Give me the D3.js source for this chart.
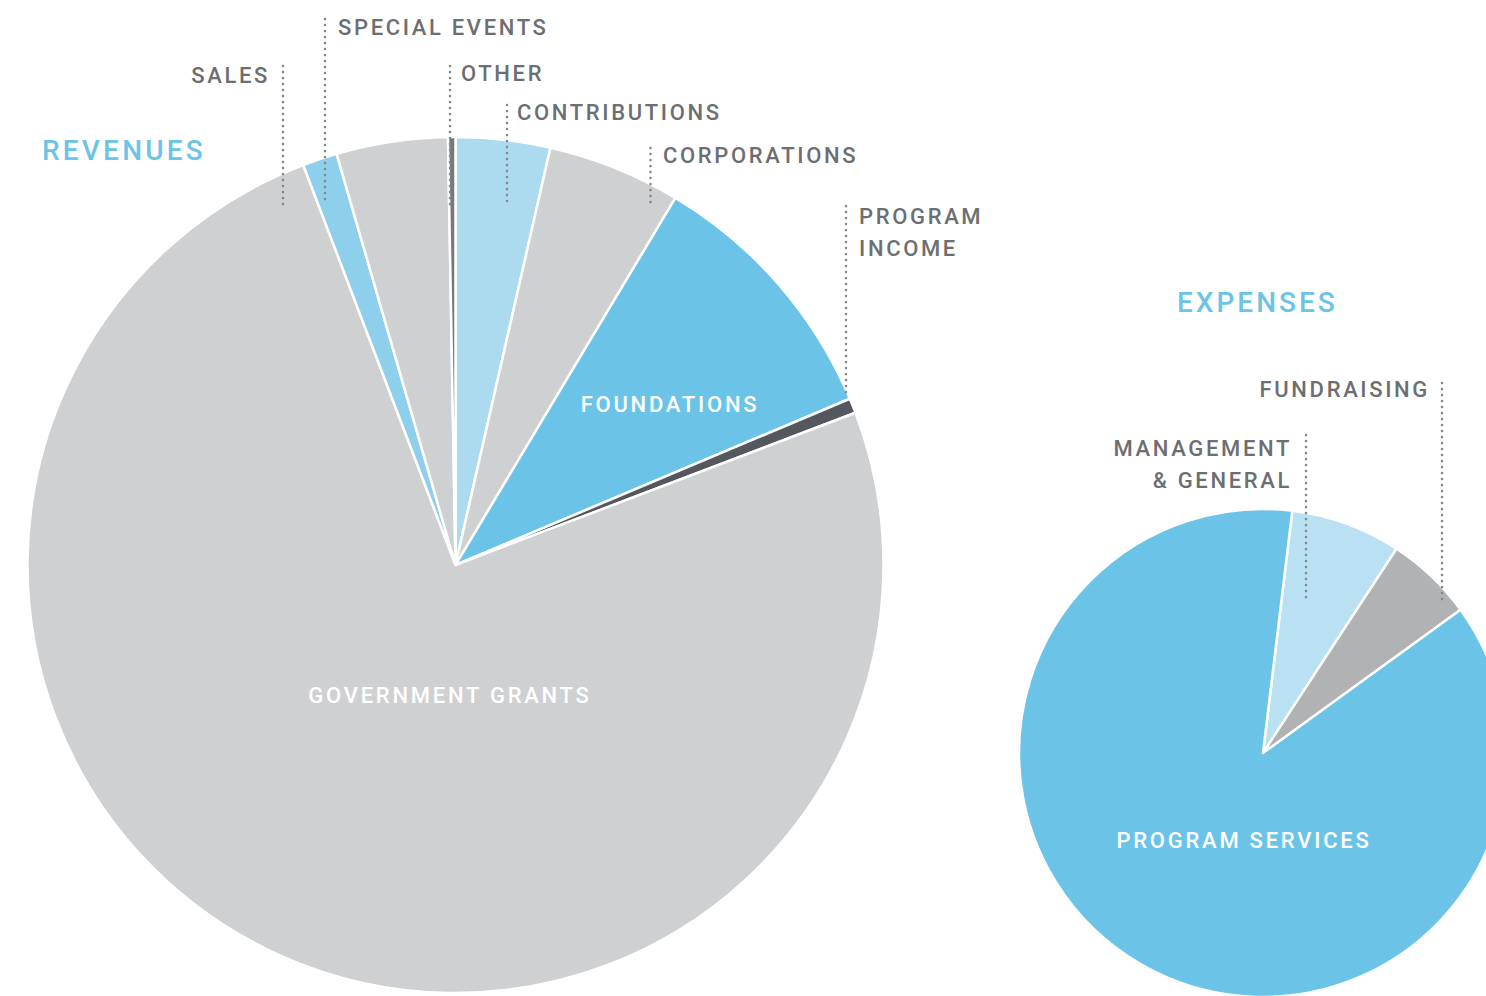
<!DOCTYPE html>
<html>
<head>
<meta charset="utf-8">
<script src="https://cdn.jsdelivr.net/npm/d3@7"></script>
<style>
  html, body { margin: 0; padding: 0; background: #fff; }
  svg { display: block; font-family: Roboto, "DejaVu Sans", sans-serif; }
</style>
</head>
<body>
<svg id="chart" width="1486" height="996"></svg>
<script>
// Revenue shares (percent), clockwise from 12 o'clock
const revenueCategories = ['Contributions', 'Corporations', 'Foundations', 'Program Income',
  'Government Grants', 'Sales', 'Special Events', 'Other'];
const revenueValues = [3.56, 5.03, 10.06, 0.56, 75.0, 1.31, 4.20, 0.28];

// Expense shares (percent)
const expenseCategories = ['Management & General', 'Fundraising', 'Program Services'];
const expenseValues = [7.3, 5.8, 86.9];

// Colours per slice
const revenueColors = ['#acdbf0', '#cfd0d2', '#6bc4e8', '#54585e', '#cfd0d2', '#8ecfec', '#cfd0d2', '#77787b'];
const expenseColors = ['#b9e1f3', '#b1b2b4', '#6bc4e8'];

// Label layout: text lines, anchor, leader line [x, y1, y2]
const revenueLabels = [
  { lines: ['SALES'], x: 270, y: 83, anchor: 'end', leader: [283, 66, 205] },
  { lines: ['SPECIAL EVENTS'], x: 338, y: 35, anchor: 'start', leader: [325, 19, 205] },
  { lines: ['OTHER'], x: 461, y: 81, anchor: 'start', leader: [450, 66, 205] },
  { lines: ['CONTRIBUTIONS'], x: 517, y: 120, anchor: 'start', leader: [507, 105, 205] },
  { lines: ['CORPORATIONS'], x: 663, y: 163, anchor: 'start', leader: [650.5, 148, 205] },
  { lines: ['PROGRAM', 'INCOME'], x: 859, y: 224, anchor: 'start', leader: [846, 206, 398] }
];
const expenseLabels = [
  { lines: ['MANAGEMENT', '& GENERAL'], x: 1292, y: 456, anchor: 'end', leader: [1306, 435, 600] },
  { lines: ['FUNDRAISING'], x: 1430, y: 397, anchor: 'end', leader: [1442, 383, 600] }
];

const svg = d3.select('#chart');
const labelColor = '#6d6e71';
const titleColor = '#6bc4e8';

function drawPie(cx, cy, r, values, colors, startAngle) {
  const pie = d3.pie().sort(null).value(d => d)
    .startAngle(startAngle).endAngle(startAngle + 2 * Math.PI);
  const arc = d3.arc().innerRadius(0).outerRadius(r);
  const g = svg.append('g').attr('transform', `translate(${cx},${cy})`);
  g.selectAll('path')
    .data(pie(values))
    .enter()
    .append('path')
    .attr('d', arc)
    .attr('fill', (d, i) => colors[i])
    .attr('stroke', '#fff')
    .attr('stroke-width', 2.5)
    .attr('stroke-linejoin', 'round');
  return g;
}

function drawLabels(labels) {
  labels.forEach(l => {
    svg.append('line')
      .attr('x1', l.leader[0]).attr('x2', l.leader[0])
      .attr('y1', l.leader[1]).attr('y2', l.leader[2])
      .attr('stroke', '#86878a')
      .attr('stroke-width', 2.6)
      .attr('stroke-linecap', 'round')
      .attr('stroke-dasharray', '0.1 5.9');
    const t = svg.append('text')
      .attr('x', l.x).attr('y', l.y)
      .attr('text-anchor', l.anchor)
      .style('font-size', '22px')
      .style('font-weight', 500)
      .style('letter-spacing', '2.65px')
      .style('fill', labelColor);
    l.lines.forEach((s, i) => {
      t.append('tspan').attr('x', l.x).attr('dy', i === 0 ? 0 : 32).text(s);
    });
  });
}

// Revenues pie
drawPie(455.5, 565, 428, revenueValues, revenueColors, 0);
// Expenses pie
drawPie(1263, 753, 244, expenseValues, expenseColors, 6.9 * Math.PI / 180);

drawLabels(revenueLabels);
drawLabels(expenseLabels);

// Titles
svg.append('text').attr('x', 42).attr('y', 160)
  .style('font-size', '28px').style('font-weight', 500).style('letter-spacing', '3.2px')
  .style('fill', titleColor).text('REVENUES');
svg.append('text').attr('x', 1177).attr('y', 312)
  .style('font-size', '28px').style('font-weight', 500).style('letter-spacing', '3.0px')
  .style('fill', titleColor).text('EXPENSES');

// In-slice labels
const inner = [
  { text: 'GOVERNMENT GRANTS', x: 450, y: 703 },
  { text: 'FOUNDATIONS', x: 670, y: 412 },
  { text: 'PROGRAM SERVICES', x: 1244, y: 848 }
];
inner.forEach(d => {
  svg.append('text').attr('x', d.x).attr('y', d.y)
    .attr('text-anchor', 'middle')
    .style('font-size', '22px').style('font-weight', 500).style('letter-spacing', '2.75px')
    .style('fill', '#fff').text(d.text);
});
</script>
</body>
</html>
